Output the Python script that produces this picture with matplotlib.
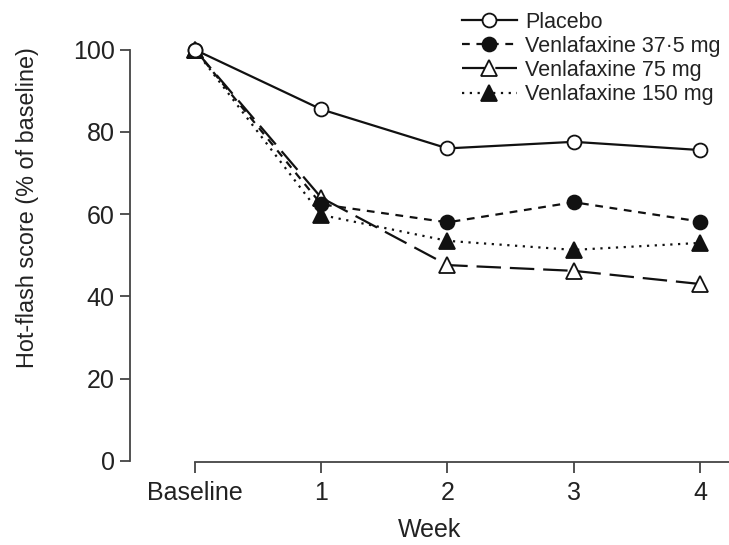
import matplotlib
matplotlib.use("Agg")
import matplotlib.pyplot as plt

weeks = [0, 1, 2, 3, 4]
week_labels = ["Baseline", "1", "2", "3", "4"]
placebo = [100, 85.5, 76, 77.6, 75.6]
venla_37 = [100, 62.4, 58, 62.9, 58.2]
venla_75 = [100, 64, 47.6, 46.2, 43]
venla_150 = [100, 59.8, 53.5, 51.3, 53]

plt.rcParams['font.family'] = ['Liberation Sans', 'DejaVu Sans']
fig = plt.figure(figsize=(7.29, 5.45), dpi=100)
W, H = 729, 545
ax = fig.add_axes([130 / W, 1 - 462 / H, 1 - 130 / W, (462 - 28) / H])

col = '#111111'
tcol = '#222222'
ms = 10
lw = 1.6
ax.plot(weeks, venla_75, color=col, lw=lw, ls=(0, (11, 4)), marker='^', ms=ms + 1,
        mfc='white', mec=col, mew=1.3, label='Venlafaxine 75 mg', zorder=3)
ax.plot(weeks, venla_150, color=col, lw=lw, ls=(0, (1, 2.5)), marker='^', ms=ms + 1,
        mfc=col, mec=col, mew=1.3, label='Venlafaxine 150 mg', zorder=3)
ax.plot(weeks, venla_37, color=col, lw=lw, ls=(0, (3.5, 3)), marker='o', ms=ms,
        mfc=col, mec=col, mew=1.3, label='Venlafaxine 37·5 mg', zorder=3)
ax.plot(weeks, placebo, color=col, lw=lw, ls='-', marker='o', ms=ms,
        mfc='white', mec=col, mew=1.3, label='Placebo', zorder=4)

ax.set_xlim(-0.515, 4.23)
ax.set_ylim(-0.32, 105.3)
for s in ['top', 'right']:
    ax.spines[s].set_visible(False)
ax.spines['left'].set_bounds(0, 100)
ax.spines['bottom'].set_bounds(0, 4.23)
for s in ['left', 'bottom']:
    ax.spines[s].set_color('#444444')
    ax.spines[s].set_linewidth(1.3)

ax.set_xticks(weeks)
ax.set_xticklabels(week_labels)
ax.set_yticks([0, 20, 40, 60, 80, 100])
ax.tick_params(axis='y', direction='out', length=7, width=1.3, color='#444444',
               labelsize=18, labelcolor=tcol, pad=4)
ax.tick_params(axis='x', direction='out', length=8, width=1.3, color='#444444',
               labelsize=18, labelcolor=tcol, pad=6)

ax.set_xlabel('Week', fontsize=18, color=tcol, labelpad=9)
fig.text(28 / W, 1 - 208 / H, 'Hot-flash score (% of baseline)', fontsize=16.8,
         color=tcol, rotation=90, ha='center', va='center')

handles, labels = ax.get_legend_handles_labels()
order = [3, 2, 0, 1]
leg = ax.legend([handles[i] for i in order], [labels[i] for i in order],
                loc='upper left', bbox_to_anchor=(462 / W, 1 - 12 / H),
                bbox_transform=fig.transFigure, frameon=False, fontsize=15.5,
                handlelength=2.55, handletextpad=0.37, labelspacing=0.14,
                borderpad=0, borderaxespad=0)
for t in leg.get_texts():
    t.set_color(tcol)

fig.savefig('out.png', dpi=100)
